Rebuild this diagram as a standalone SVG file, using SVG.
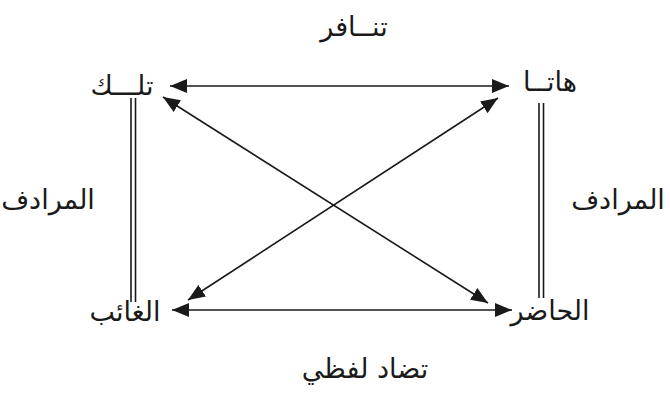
<svg xmlns="http://www.w3.org/2000/svg" width="670" height="399" viewBox="0 0 670 399">
<defs>
<marker id="ah" markerUnits="userSpaceOnUse" markerWidth="17" markerHeight="14" viewBox="0 0 17 14" refX="17" refY="7" orient="auto-start-reverse">
<path d="M0,0 L17,7 L0,14 Z" fill="#1a1a1a"/>
</marker>
</defs>
<style>
.t{font-family:"DejaVu Sans","Noto Sans",sans-serif;font-size:27px;fill:#1a1a1a;text-anchor:middle}
.c{stroke:#1a1a1a;stroke-width:1.6;fill:none}
.a{marker-start:url(#ah);marker-end:url(#ah)}
</style>
<rect width="670" height="399" fill="#ffffff"/>
<g id="connectors">
<line class="c a" x1="170" y1="86" x2="509" y2="86"/>
<line class="c a" x1="172" y1="310" x2="512" y2="310"/>
<line class="c a" x1="163" y1="97" x2="488" y2="303"/>
<line class="c a" x1="498" y1="98" x2="188" y2="300"/>
<line class="c" x1="131" y1="98" x2="131" y2="302"/>
<line class="c" x1="135.5" y1="98" x2="135.5" y2="302"/>
<line class="c" x1="539" y1="103" x2="539" y2="298"/>
<line class="c" x1="543.5" y1="103" x2="543.5" y2="298"/>
</g>
<g id="node-tilka"><text class="t" x="122" y="95">تلـــك</text></g>
<g id="node-hata"><text class="t" x="550" y="91">هاتــا</text></g>
<g id="node-ghaib"><text class="t" x="125" y="321">الغائب</text></g>
<g id="node-hadir"><text class="t" x="550" y="320">الحاضر</text></g>
<g id="label-tanafur"><text class="t" x="354" y="36">تنــافر</text></g>
<g id="label-tadad"><text class="t" x="365" y="378">تضاد لفظي</text></g>
<g id="label-muradif-left"><text class="t" x="48" y="209">المرادف</text></g>
<g id="label-muradif-right"><text class="t" x="618" y="209">المرادف</text></g>
</svg>
